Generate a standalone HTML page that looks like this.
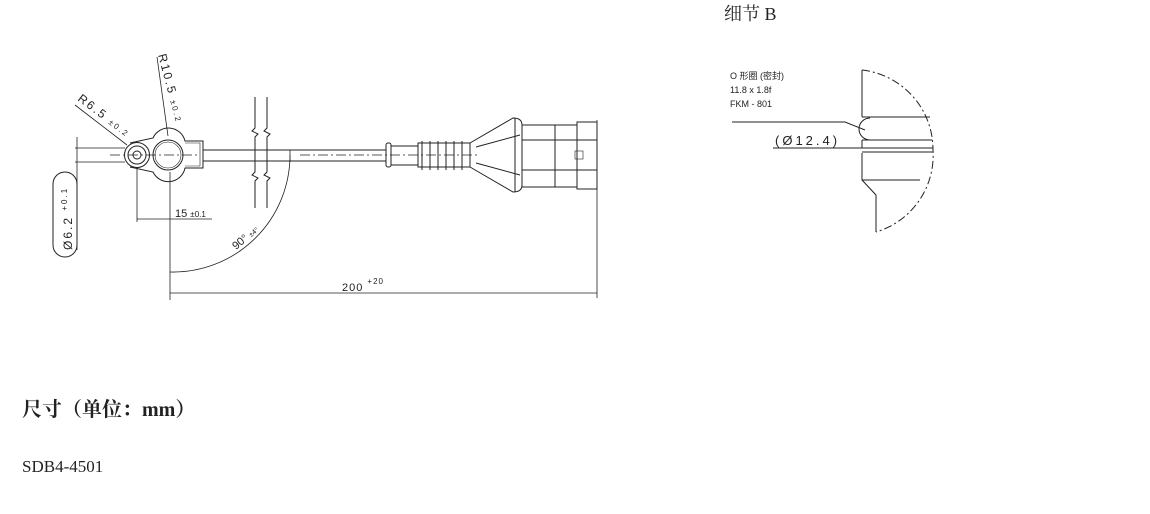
<!DOCTYPE html>
<html><head><meta charset="utf-8"><style>
body{margin:0;background:#fff;width:1150px;height:514px;overflow:hidden}
svg{position:absolute;left:0;top:0}
</style></head><body>
<svg width="1150" height="514" viewBox="0 0 1150 514" font-family="Liberation Sans, sans-serif">
<g stroke="#222" stroke-width="1" fill="none">
<!-- eyelet -->
<path d="M130,143 L153,138 A17,17 0 0 1 185,141 L203,141 L203,168 L185,168 A17,17 0 0 1 153,172 L130,167"/>
<circle cx="137" cy="155" r="12.5"/><circle cx="137" cy="155" r="9"/><circle cx="137" cy="155" r="4"/>
<circle cx="168" cy="155" r="15"/><circle cx="168" cy="155" r="13" stroke-width="0.6"/>
<path d="M185,143 L200,143 L200,166 L185,166" stroke-width="0.6"/>
<!-- cable -->
<line x1="203" y1="150" x2="386" y2="150"/><line x1="203" y1="161" x2="386" y2="161"/>
<!-- break -->
<path d="M255,97 V128 l-3,3 l6,3 l-3,3 V172 l-3,3 l6,3 l-3,3 V208"/>
<path d="M267,97 V128 l-3,3 l6,3 l-3,3 V172 l-3,3 l6,3 l-3,3 V208"/>
<!-- connector -->
<rect x="386" y="143" width="5" height="24" rx="2"/>
<rect x="391" y="146" width="27" height="19"/>
<path d="M418,143 h52 v24 h-52 z"/>
<path d="M422,141 v29 M430,141 v29 M438,141 v29 M446,141 v29 M454,141 v29 M462,141 v29"/>
<path d="M470,143 L513,118 Q522,118 522,125 V185 Q522,192 513,192 L470,167"/>
<path d="M476,147 L520,135 M476,163 L520,175 M515,118 V192"/>
<rect x="522" y="125" width="33" height="62"/>
<rect x="555" y="125" width="22" height="62"/>
<rect x="577" y="122" width="20" height="67"/>
<path d="M522,140 H597 M522,170 H597"/>
<rect x="575" y="151" width="8" height="8" stroke-width="0.6"/>
<line x1="300" y1="155" x2="480" y2="155" stroke-dasharray="10,3,2,3" stroke-width="0.7"/>
<line x1="110" y1="155" x2="200" y2="155" stroke-dasharray="10,3,2,3" stroke-width="0.7"/>
<!-- dims -->
<path d="M75,148 H125 M75,162 H125 M77,137 V250" stroke-width="0.8"/>
<rect x="53" y="172" width="24" height="85" rx="12"/>
<path d="M137,167 V222 M170,172 V300 M137,219 H212" stroke-width="0.8"/>
<path d="M170,272 A117,117 0 0 0 290,155" stroke-width="0.8"/>
<path d="M290,150 V162" stroke-width="0.8"/>
<path d="M170,293 H597 M597,120 V298" stroke-width="0.8"/>
<path d="M157,57 L168,136 M75,105 L127,145" stroke-width="0.8"/>
<!-- detail B -->
<path d="M862,70 V117 M862,140 V148 M862,153 V180 L876,195 V232" />
<path d="M862,117 H930 M862,140 H932 M862,148 H933 M862,152 H933 M862,180 H920" />
<path d="M870,118 A11,11 0 0 0 870,140"/>
<path d="M862,70 A80,80 0 0 1 933,150 A80,80 0 0 1 876,232" stroke-dasharray="8,3,2,3"/>
<path d="M732,122 H845 L865,130 M773,148 H880"/>
</g>
<g fill="#222" font-size="10">
<text x="0" y="0" transform="translate(72,250) rotate(-90)" font-size="12" letter-spacing="2">Ø6.2 <tspan font-size="8" dy="-5">+0.1</tspan></text>
<text x="0" y="0" transform="translate(158,55) rotate(75)" font-size="12" letter-spacing="2">R10.5 <tspan font-size="8">±0.2</tspan></text>
<text x="0" y="0" transform="translate(77,100) rotate(37)" font-size="12" letter-spacing="2">R6.5 <tspan font-size="8">±0.2</tspan></text>
<text x="175" y="217" font-size="11">15 <tspan font-size="8">±0.1</tspan></text>
<text x="0" y="0" transform="translate(236,250) rotate(-40)" font-size="11">90° <tspan font-size="7">±4°</tspan></text>
<text x="342" y="291" font-size="11" letter-spacing="1">200 <tspan font-size="8" dy="-7">+20</tspan></text>
<text x="730" y="79" font-family="Liberation Sans, Noto Sans CJK SC, sans-serif" font-size="9">O 形圈 (密封)</text>
<text x="730" y="93" font-size="9">11.8 x 1.8f</text>
<text x="730" y="107" font-size="9">FKM - 801</text>
<text x="775" y="145" font-size="13" letter-spacing="3">(Ø12.4)</text>
<text x="724" y="20" font-family="Liberation Serif, Noto Serif CJK SC, serif" font-size="18">细节 B</text>
<text x="22" y="416" font-family="Liberation Serif, Noto Serif CJK SC, serif" font-size="20" font-weight="bold">尺寸（单位：mm）</text>
<text x="22" y="472" font-family="Liberation Serif, Noto Serif CJK SC, serif" font-size="17">SDB4-4501</text>
</g>
</svg>
</body></html>
